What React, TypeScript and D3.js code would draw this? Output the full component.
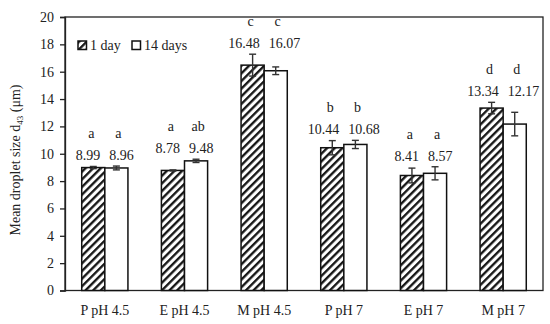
import React, { useEffect, useRef } from 'react'
import * as d3 from 'd3'

const categories = ['P pH 4.5', 'E pH 4.5', 'M pH 4.5', 'P pH 7', 'E pH 7', 'M pH 7']
const seriesNames = ['1 day', '14 days']
const day1 = [8.99, 8.78, 16.48, 10.44, 8.41, 13.34]
const day14 = [8.96, 9.48, 16.07, 10.68, 8.57, 12.17]
const day1Err = [0.08, 0.04, 0.8, 0.52, 0.54, 0.42]
const day14Err = [0.14, 0.12, 0.28, 0.3, 0.48, 0.86]
const day1Letters = ['a', 'a', 'c', 'b', 'a', 'd']
const day14Letters = ['a', 'ab', 'c', 'b', 'a', 'd']
const yTicks = [0, 2, 4, 6, 8, 10, 12, 14, 16, 18, 20]

const W = 550
const H = 324
const FONT = '"Liberation Serif", "DejaVu Serif", serif'

export default function App() {
  const svgRef = useRef<SVGSVGElement>(null)

  useEffect(() => {
    document.body.style.margin = '0'
    if (!svgRef.current) return
    const svg = d3.select(svgRef.current)
    svg.selectAll('*').remove()

    const m = { left: 65, right: 543, top: 17, bottom: 290.5 }

    const x = d3.scaleBand<string>().domain(categories).range([m.left, m.right]).paddingInner(0.42).paddingOuter(0.21)
    const xs = d3.scaleBand<string>().domain(seriesNames).range([0, x.bandwidth()])
    const y = d3.scaleLinear().domain([0, 20]).range([m.bottom, m.top])

    // hatch pattern
    const defs = svg.append('defs')
    const pat = defs
      .append('pattern')
      .attr('id', 'hatch')
      .attr('patternUnits', 'userSpaceOnUse')
      .attr('width', 5.4)
      .attr('height', 5.4)
      .attr('patternTransform', 'rotate(45)')
    pat.append('rect').attr('width', 5.4).attr('height', 5.4).attr('fill', '#fff')
    pat.append('line').attr('x1', 1.2).attr('y1', 0).attr('x2', 1.2).attr('y2', 5.4).attr('stroke', '#111').attr('stroke-width', 2.3)

    // frame
    svg
      .append('rect')
      .attr('x', m.left)
      .attr('y', m.top)
      .attr('width', m.right - m.left)
      .attr('height', m.bottom - m.top)
      .attr('fill', 'none')
      .attr('stroke', '#222')
      .attr('stroke-width', 1.3)

    // y axis
    const yAxis = svg
      .append('g')
      .attr('transform', `translate(${m.left},0)`)
      .call(d3.axisLeft(y).tickValues(yTicks).tickSize(5).tickPadding(6).tickFormat(d3.format('d')))
    yAxis.select('.domain').attr('stroke', '#222').attr('stroke-width', 1.3)
    yAxis.selectAll('.tick line').attr('stroke', '#222').attr('stroke-width', 1.3)
    yAxis.selectAll('.tick text').attr('font-family', FONT).attr('font-size', 14).attr('fill', '#222')

    // x labels
    svg
      .append('g')
      .selectAll('text')
      .data(categories)
      .join('text')
      .attr('x', (d) => x(d)! + x.bandwidth() / 2)
      .attr('y', 315)
      .attr('text-anchor', 'middle')
      .attr('font-family', FONT)
      .attr('font-size', 14)
      .attr('fill', '#222')
      .text((d) => d)

    // axis title
    const title = svg
      .append('text')
      .attr('transform', `translate(20,160) rotate(-90)`)
      .attr('text-anchor', 'middle')
      .attr('font-family', FONT)
      .attr('font-size', 14)
      .attr('fill', '#222')
    title.append('tspan').text('Mean droplet size d')
    title.append('tspan').attr('font-size', 9).attr('dy', 3).text('43')
    title.append('tspan').attr('dy', -3).text(' (μm)')

    const series = [
      { name: seriesNames[0], vals: day1, errs: day1Err, letters: day1Letters, fill: 'url(#hatch)' },
      { name: seriesNames[1], vals: day14, errs: day14Err, letters: day14Letters, fill: '#fff' },
    ]

    series.forEach((s) => {
      const g = svg.append('g')
      const bx = (i: number) => x(categories[i])! + xs(s.name)!
      g.selectAll('rect')
        .data(s.vals)
        .join('rect')
        .attr('x', (d, i) => bx(i))
        .attr('y', (d) => y(d))
        .attr('width', xs.bandwidth())
        .attr('height', (d) => y(0) - y(d))
        .attr('fill', s.fill)
        .attr('stroke', '#111')
        .attr('stroke-width', 1.5)

      // error bars
      s.vals.forEach((v, i) => {
        const cx = bx(i) + xs.bandwidth() / 2
        const e = s.errs[i]
        const eg = g.append('g').attr('stroke', '#333').attr('stroke-width', 1.4)
        eg.append('line').attr('x1', cx).attr('x2', cx).attr('y1', y(v - e)).attr('y2', y(v + e))
        eg.append('line').attr('x1', cx - 3.5).attr('x2', cx + 3.5).attr('y1', y(v - e)).attr('y2', y(v - e))
        eg.append('line').attr('x1', cx - 3.5).attr('x2', cx + 3.5).attr('y1', y(v + e)).attr('y2', y(v + e))
      })
    })

    // value labels and significance letters, aligned per group
    categories.forEach((c, i) => {
      const top = Math.max(day1[i] + day1Err[i], day14[i] + day14Err[i])
      const labelY = y(top) - 11
      const mid = x(c)! + x.bandwidth() / 2
      series.forEach((s, k) => {
        const cx = x(c)! + xs(s.name)! + xs.bandwidth() / 2
        svg
          .append('text')
          .attr('x', k === 0 ? mid - 4.5 : mid + 4.5)
          .attr('y', labelY)
          .attr('dy', '0.35em')
          .attr('text-anchor', k === 0 ? 'end' : 'start')
          .attr('font-family', FONT)
          .attr('font-size', 14)
          .attr('fill', '#222')
          .text(s.vals[i].toFixed(2))
        svg
          .append('text')
          .attr('x', k === 0 ? cx - 2 : cx + 2)
          .attr('y', labelY - 22)
          .attr('dy', '0.35em')
          .attr('text-anchor', 'middle')
          .attr('font-family', FONT)
          .attr('font-size', 14)
          .attr('fill', '#222')
          .text(s.letters[i])
      })
    })

    // legend
    const leg = svg.append('g').attr('transform', 'translate(78,41)')
    const items = [
      { name: seriesNames[0], fill: 'url(#hatch)', x: 0 },
      { name: seriesNames[1], fill: '#fff', x: 54 },
    ]
    items.forEach((it) => {
      leg
        .append('rect')
        .attr('x', it.x)
        .attr('y', 0)
        .attr('width', 8.5)
        .attr('height', 8.5)
        .attr('fill', it.fill)
        .attr('stroke', '#111')
        .attr('stroke-width', 1.5)
      leg
        .append('text')
        .attr('x', it.x + 12)
        .attr('y', 4.5)
        .attr('dy', '0.35em')
        .attr('font-family', FONT)
        .attr('font-size', 14)
        .attr('fill', '#222')
        .text(it.name)
    })
  }, [])

  return <svg ref={svgRef} width={W} height={H} style={{ display: 'block', background: '#fff' }} />
}
